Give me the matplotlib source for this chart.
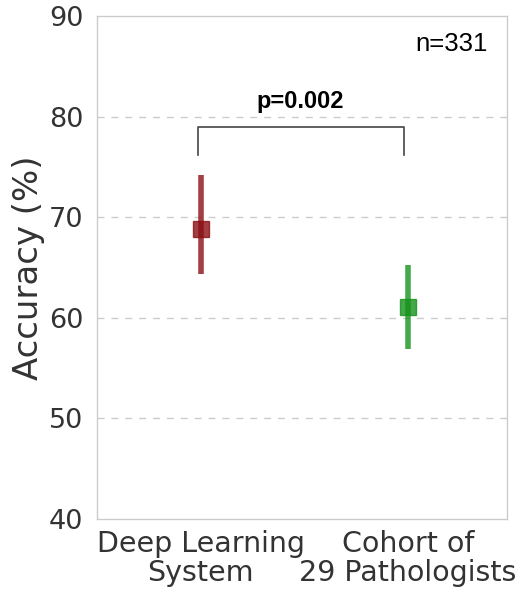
import matplotlib
matplotlib.use("Agg")
import matplotlib.pyplot as plt

plt.rcParams["font.family"] = ["DejaVu Sans"]

groups = ["Deep Learning\nSystem", "Cohort of\n29 Pathologists"]
accuracy = [68.8, 61.1]
ci_low = [64.3, 56.9]
ci_high = [74.2, 65.2]
colors = ["#8b0f14", "#16921b"]
p_text = "p=0.002"
n_text = "n=331"

fig = plt.figure(figsize=(5.31, 5.93), dpi=100)
ax = fig.add_axes([0.183, 0.125, 0.772, 0.848])

for i in range(len(groups)):
    err = [[accuracy[i] - ci_low[i]], [ci_high[i] - accuracy[i]]]
    ax.errorbar(i, accuracy[i], yerr=err, fmt="s", color=colors[i], ms=11,
                elinewidth=4, capsize=0, alpha=0.8, zorder=3)

ax.set_xlim(-0.5, 1.48)
ax.set_ylim(40, 90)
ax.set_yticks([40, 50, 60, 70, 80, 90])
ax.set_xticks(range(len(groups)))
ax.set_xticklabels(groups, fontsize=20.5, color="#333333", linespacing=1.05)
ax.tick_params(axis="y", labelsize=19.5, labelcolor="#333333", length=0, pad=10)
ax.tick_params(axis="x", length=0, pad=8)
ax.set_ylabel("Accuracy (%)", fontsize=24.5, color="#333333", labelpad=3)

for y in [50, 60, 70, 80]:
    ax.axhline(y, color="#cccccc", ls=(0, (5, 5)), lw=1, zorder=1)
for s in ax.spines.values():
    s.set_color("#cccccc")
    s.set_linewidth(1)

# significance bracket
ax.plot([-0.015, -0.015, 0.98, 0.98], [76.2, 79.0, 79.0, 76.2], color="#444444", lw=1.2)
ax.text(0.48, 80.4, p_text, ha="center", va="bottom", fontsize=17,
        fontweight="bold", family="Liberation Sans")
ax.text(1.21, 87.2, n_text, ha="center", va="center", fontsize=18.5,
        family="Liberation Sans")

fig.savefig("out.png", dpi=100)
